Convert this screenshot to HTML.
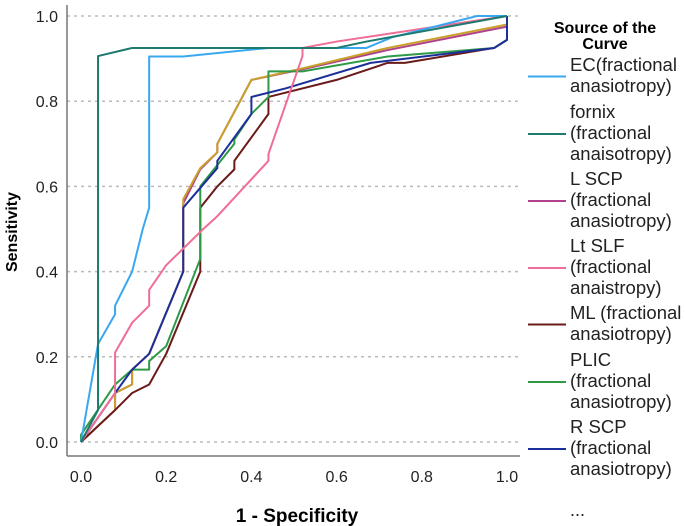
<!DOCTYPE html>
<html><head><meta charset="utf-8"><style>
body{margin:0;background:#fff;}
svg{display:block;font-family:"Liberation Sans",Arial,sans-serif;}
</style></head><body>
<svg id="chart" width="685" height="526">
<g id="grid"></g>
<line x1="67" y1="5" x2="67" y2="456" stroke="#777" stroke-width="1.5"/>
<line x1="67" y1="456" x2="520" y2="456" stroke="#777" stroke-width="1.5"/>
<g id="ticks"></g>
<g id="series"></g>
<text x="297" y="522" text-anchor="middle" font-size="19" font-weight="bold">1 - Specificity</text>
<text transform="translate(17,232) rotate(-90)" text-anchor="middle" font-size="16" font-weight="bold">Sensitivity</text>
<g id="legend">
<text x="605" y="33" text-anchor="middle" font-size="16" font-weight="bold"><tspan x="605">Source of the</tspan><tspan x="605" dy="16">Curve</tspan></text>
</g>
</svg>
<script>
const names=["EC","fornix","L SCP","Lt SLF","ML","PLIC","R SCP","other"];
const labels=[["EC(fractional","anasiotropy)"],["fornix","(fractional","anaisotropy)"],["L SCP","(fractional","anasiotropy)"],["Lt SLF","(fractional","anaistropy)"],["ML (fractional","anasiotropy)"],["PLIC","(fractional","anasiotropy)"],["R SCP","(fractional","anasiotropy)"]];
const colors=["#3aa8f0","#1c7a6e","#b0418c","#f06e96","#6b1a1a","#2e9a47","#1c2f9a","#c8a02a"];
const xTicks=[0,0.2,0.4,0.6,0.8,1.0];
const yTicks=[0,0.2,0.4,0.6,0.8,1.0];
const fprEC=[0,0.04,0.08,0.08,0.12,0.145,0.16,0.16,0.24,0.44,0.67,0.73,0.93,1];
const tprEC=[0,0.23,0.30,0.32,0.40,0.50,0.55,0.905,0.905,0.925,0.925,0.95,1,1];
const fprFornix=[0,0.04,0.04,0.12,0.6,0.67,1];
const tprFornix=[0,0.075,0.906,0.925,0.925,0.94,1];
const fprLSCP=[0,0.08,0.08,0.12,0.12,0.16,0.24,0.24,0.28,0.32,0.32,0.40,0.52,0.72,1,1];
const tprLSCP=[0,0.075,0.115,0.135,0.17,0.207,0.40,0.56,0.64,0.68,0.70,0.85,0.875,0.92,0.975,1];
const fprSLF=[0,0.08,0.08,0.12,0.16,0.16,0.2,0.287,0.32,0.44,0.44,0.52,0.52,0.6,1];
const tprSLF=[0,0.115,0.21,0.28,0.32,0.357,0.415,0.5,0.53,0.66,0.676,0.906,0.925,0.94,1];
const fprML=[0,0.08,0.12,0.16,0.2,0.28,0.28,0.32,0.36,0.36,0.44,0.44,0.6,0.72,0.76,0.97,1,1];
const tprML=[0,0.075,0.115,0.135,0.207,0.40,0.55,0.60,0.64,0.66,0.77,0.81,0.85,0.89,0.89,0.925,0.944,1];
const fprPLIC=[0,0,0.08,0.12,0.16,0.16,0.2,0.28,0.28,0.36,0.36,0.4,0.44,0.44,0.52,0.72,0.97,1,1];
const tprPLIC=[0,0.017,0.135,0.17,0.17,0.19,0.225,0.43,0.60,0.70,0.71,0.77,0.81,0.87,0.87,0.905,0.925,0.944,1];
const fprRSCP=[0,0.08,0.12,0.16,0.24,0.24,0.32,0.32,0.40,0.40,0.48,0.68,0.97,1,1];
const tprRSCP=[0,0.115,0.17,0.207,0.40,0.55,0.643,0.66,0.77,0.81,0.83,0.89,0.925,0.944,1];
const fprOther=[0,0.08,0.08,0.12,0.12,0.16,0.24,0.24,0.28,0.32,0.32,0.40,0.52,0.72,1,1];
const tprOther=[0,0.075,0.115,0.135,0.17,0.207,0.40,0.57,0.643,0.68,0.70,0.85,0.877,0.925,0.98,1];
const fprs=[fprEC,fprFornix,fprLSCP,fprSLF,fprML,fprPLIC,fprRSCP,fprOther];
const tprs=[tprEC,tprFornix,tprLSCP,tprSLF,tprML,tprPLIC,tprRSCP,tprOther];
const NS="http://www.w3.org/2000/svg";
const X=v=>81+v*426, Y=v=>442-v*426;
function mk(t,a,p){const e=document.createElementNS(NS,t);for(const k in a)e.setAttribute(k,a[k]);p.appendChild(e);return e;}
const grid=document.getElementById('grid'),ticks=document.getElementById('ticks'),series=document.getElementById('series'),legend=document.getElementById('legend');
yTicks.forEach(v=>{
 const l=mk('line',{x1:67,x2:520,y1:Y(v),y2:Y(v),stroke:'#bbb','stroke-width':1.5,'stroke-dasharray':'3,4'},grid);
 
 
 const t=mk('text',{x:58,y:Y(v)+6,'text-anchor':'end','font-size':16,fill:'#222'},ticks);
 t.textContent=v.toFixed(1);
 
 
});
xTicks.forEach(v=>{
 const t=mk('text',{x:X(v),y:482,'text-anchor':'middle','font-size':16,fill:'#222'},ticks);
 t.textContent=v.toFixed(1);
 
 
});
[2,7,4,5,6,3,0,1].forEach(i=>{
 const pts=fprs[i].map((f,j)=>X(f)+','+Y(tprs[i][j])).join(' ');
 const p=mk('polyline',{points:pts,fill:'none',stroke:colors[i],'stroke-width':2,'stroke-linejoin':'round'},series);
 
 
});
let y0=71;
labels.forEach((lines,i)=>{
 const mid=y0+(lines.length-1)*21/2-5;
 const l=mk('line',{x1:528,x2:566,y1:mid,y2:mid,stroke:colors[i],'stroke-width':2},legend);
 
 
 lines.forEach((s,k)=>{
  const t=mk('text',{x:570,y:y0+k*21,'font-size':18.5,fill:'#222'},legend);
  t.textContent=s;
  
  
 });
 y0+=lines.length*21+(lines.length===2?5:4);
});
const d=mk('text',{x:570,y:516,'font-size':18,fill:'#222'},legend);
d.textContent='...';


</script>
</body></html>
